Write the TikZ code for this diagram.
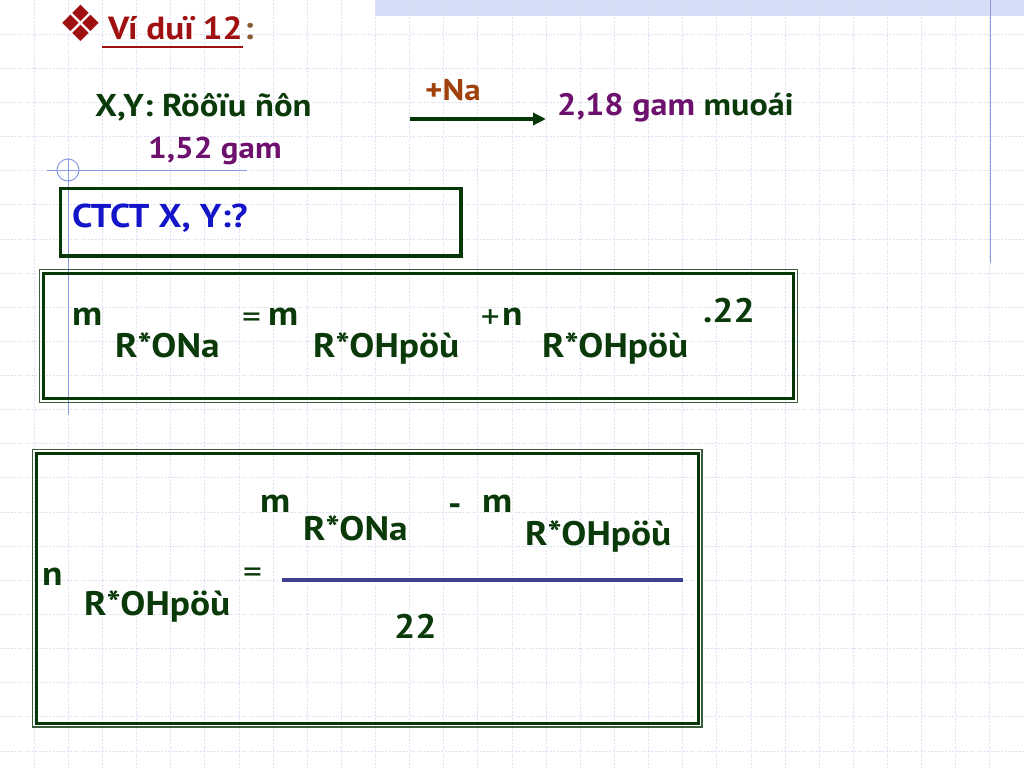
\documentclass[tikz,border=0pt]{standalone}
\usepackage{fontspec}
\setmainfont[FakeStretch=1.1]{PT Sans}
\newfontfamily\symfont{DejaVu Sans}
\usetikzlibrary{arrows.meta}
\definecolor{txtgreen}{HTML}{0A3A0A}
\definecolor{boxgreen}{HTML}{073607}
\definecolor{titlered}{HTML}{A01010}
\definecolor{txtpurple}{HTML}{6E106E}
\definecolor{txtbrown}{HTML}{A0400A}
\definecolor{colbrown}{HTML}{8A5A30}
\definecolor{txtblue}{HTML}{1414C8}
\definecolor{fracc}{HTML}{3F3F8F}
\definecolor{gridc}{HTML}{DCE1F3}
\definecolor{bluel}{HTML}{8C9BE6}
\definecolor{bandc}{HTML}{D6DEF7}
\begin{document}
\begin{tikzpicture}[x=1pt,y=-1pt,
  txt/.style={inner sep=0pt, anchor=base west, text=txtgreen, font=\bfseries\fontsize{34}{34}\selectfont},
  sz/.style={font=\bfseries\fontsize{#1}{#1}\selectfont},
  op/.style={inner sep=0pt, anchor=base west, text=txtgreen, font=\fontsize{34}{34}\selectfont},
  gridline/.style={gridc, line width=0.8pt, dash pattern=on 2pt off 1.5pt},
  deco/.style={bluel, line width=1pt},
  thickframe/.style={boxgreen, line width=3.5pt},
  thinframe/.style={boxgreen!80, line width=1.1pt}]
\useasboundingbox (0,0) rectangle (1024,768);
\fill[white] (0,0) rectangle (1024,768);
% background band and grid
\fill[bandc] (375,0) rectangle (1024,16);
\foreach \i in {1,...,29} \draw[gridline] (\i*34.133,0) -- (\i*34.133,768);
\foreach \j in {1,...,22} \draw[gridline] (0,\j*34.133) -- (1024,\j*34.133);
% blue decorative lines
\draw[deco] (990,0) -- (990,263);
\draw[deco] (47,170) -- (247,170);
\draw[deco] (68,158) -- (68,415);
\draw[deco] (68,170) circle (11);
% title
\node[inner sep=0pt, text=titlered, font=\symfont\fontsize{50}{50}\selectfont] (bul) at (81,23) {❖};
\node[txt, sz=32, text=titlered] (title) at (108,40) {Ví duï 12};
\node[txt, sz=32, text=colbrown, anchor=base west] (colon) at ([xshift=1pt]title.base east) {:};
\draw[titlered, line width=2.5pt] ([shift={(-6,7)}]title.base west) -- ([shift={(0,7)}]title.base east);
% reaction line
\node[txt, sz=31.5] (xy) at (95,116) {X,Y: Röôïu ñôn};
\node[txt, sz=30, text=txtpurple] (mass1) at (148,158) {1,52 gam};
\node[txt, sz=30, text=txtbrown] (na) at (425,100) {+Na};
\coordinate (arrS) at (410,119);
\coordinate (arrE) at (546,119);
\draw[boxgreen, line width=3.5pt, -{Triangle[length=13pt,width=12pt]}] (arrS) -- (arrE);
\node[txt, sz=31] (salt) at (557,115) {\textcolor{txtpurple}{2,18 gam} muoái};
% CTCT box
\draw[thickframe] (60.5,188.5) rectangle (461,256);
\node[txt, sz=33, text=txtblue] (ctct) at (72,227) {CTCT X, Y:?};
% box 1
\draw[thinframe] (39.5,269.5) rectangle (797.5,402.5);
\draw[thickframe] (43.5,273.5) rectangle (793.5,398.5);
\node[txt] (m1) at (72,325) {m};
\node[txt] (s1) at (115,357) {R*ONa};
\node[op] (eq1) at (242,328) {=};
\node[txt] (m2) at (268,325) {m};
\node[txt] (s2) at (313,357) {R*OHpöù};
\node[txt] (n1) at (502,325) {n};
\node[op, anchor=base east] (pl1) at ([shift={(-2,3)}]n1.base west) {+};
\node[txt] (s3) at (542,357) {R*OHpöù};
\node[txt] (k1) at (703,322) {.22};
% box 2
\draw[thinframe] (32.5,449.5) rectangle (702,727);
\draw[thickframe] (36.5,453.5) rectangle (698.5,723.5);
\node[txt] (m3) at (260,512) {m};
\node[txt] (s4) at (303,540) {R*ONa};
\node[txt] (mi) at (448,515) {-};
\node[txt] (m4) at (482,512) {m};
\node[txt] (s5) at (525,545) {R*OHpöù};
\node[txt] (n2) at (42,585) {n};
\node[txt] (s6) at (84,615) {R*OHpöù};
\node[op] (eq2) at (243,583) {=};
\coordinate (fracL) at (282,580);
\coordinate (fracR) at (683,580);
\draw[fracc, line width=4pt] (fracL) -- (fracR);
\node[txt] (k2) at (394,638) {22};
\end{tikzpicture}
\end{document}
